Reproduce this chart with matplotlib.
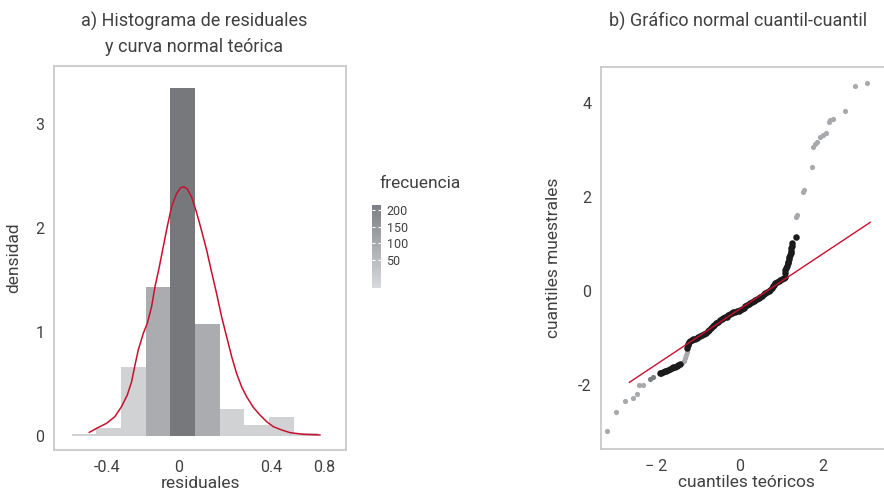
import matplotlib
matplotlib.use("Agg")
import matplotlib.pyplot as plt
from matplotlib.colors import ListedColormap, BoundaryNorm, LinearSegmentedColormap, Normalize
import matplotlib.cm as cm

# --- Datos: histograma de residuales ---
bordes = [-0.596, -0.459, -0.322, -0.185, -0.048, 0.089, 0.226, 0.363, 0.500, 0.637, 0.774]
densidad = [0.02, 0.077, 0.66, 1.43, 3.35, 1.08, 0.26, 0.11, 0.18, 0.03]
frecuencia = [1, 5, 42, 91, 212, 68, 16, 7, 11, 2]

# curva
curva_x = [-0.498, -0.457, -0.402, -0.356, -0.319, -0.287, -0.263, -0.244, -0.226,
           -0.198, -0.176, -0.152, -0.133, -0.109, -0.087, -0.065, -0.041, -0.013,
           0.009, 0.028, 0.046, 0.070, 0.094, 0.120, 0.154, 0.181, 0.209, 0.237,
           0.265, 0.293, 0.320, 0.348, 0.376, 0.413, 0.450, 0.487, 0.524, 0.570,
           0.617, 0.691, 0.783]
curva_y = [0.035, 0.074, 0.122, 0.186, 0.282, 0.394, 0.522, 0.683, 0.827,
           0.987, 1.083, 1.244, 1.436, 1.628, 1.821, 2.013, 2.205, 2.333,
           2.388, 2.397, 2.378, 2.301, 2.173, 2.013, 1.788, 1.580, 1.372, 1.147,
           0.955, 0.763, 0.603, 0.474, 0.378, 0.276, 0.202, 0.138, 0.090, 0.058,
           0.032, 0.016, 0.010]

ticks_res = [-0.4, 0, 0.515, 0.806]
etiquetas_res = ["-0.4", "0", "0.4", "0.8"]

# --- Datos: grafico cuantil-cuantil ---
gris_x = [-3.16, -2.95, -2.73, -2.55, -2.45, -2.39, -2.30,
          -1.38, -1.33, -1.30, -1.27, -1.26, -1.25,
          1.36, 1.38, 1.53, 1.55, 1.75, 1.77, 1.80, 1.85, 1.93, 2.00, 2.07,
          2.15, 2.17, 2.23, 2.53, 2.77, 3.05]
gris_y = [-2.985, -2.58, -2.34, -2.28, -2.19, -2.006, -2.006,
          -1.545, -1.49, -1.44, -1.37, -1.31, -1.26,
          1.574, 1.62, 2.106, 2.15, 2.64, 3.06, 3.12, 3.17, 3.28, 3.32, 3.35,
          3.60, 3.63, 3.65, 3.82, 4.355, 4.43]
medio_x = [-2.14, -2.07]
medio_y = [-1.885, -1.84]
negro_x = [-1.91, -1.87, -1.83, -1.79, -1.75, -1.71, -1.67, -1.62, -1.58, -1.54,
           -1.50, -1.46, -1.42,
           -1.25, -1.24, -1.22, -1.20, -1.17, -1.14, -1.10, -1.06, -1.02, -0.98,
           -0.94, -0.90, -0.85, -0.80, -0.76, -0.72, -0.68, -0.64, -0.60, -0.55,
           -0.51, -0.46, -0.42, -0.38, -0.34, -0.30, -0.26, -0.22, -0.18, -0.14,
           -0.10, -0.06, -0.02, 0.02, 0.06, 0.10, 0.14, 0.18, 0.22, 0.26, 0.30,
           0.34, 0.38, 0.42, 0.46, 0.50, 0.54, 0.58, 0.62, 0.66, 0.70, 0.73,
           0.77, 0.80, 0.83, 0.86, 0.90, 0.94, 0.98, 1.02, 1.06, 1.09,
           1.09, 1.10, 1.12, 1.14, 1.16, 1.17, 1.19, 1.20, 1.22, 1.23, 1.24,
           1.24, 1.25, 1.25, 1.36]
negro_y = [-1.76, -1.745, -1.73, -1.715, -1.70, -1.685, -1.67, -1.65, -1.63, -1.615,
           -1.60, -1.585, -1.57,
           -1.21, -1.16, -1.13, -1.10, -1.07, -1.05, -1.035, -1.02, -1.005, -0.99,
           -0.97, -0.95, -0.92, -0.89, -0.865, -0.84, -0.80, -0.76, -0.725, -0.69,
           -0.66, -0.63, -0.61, -0.59, -0.57, -0.55, -0.525, -0.50, -0.48, -0.46,
           -0.45, -0.44, -0.425, -0.41, -0.385, -0.36, -0.335, -0.31, -0.29, -0.27,
           -0.245, -0.22, -0.195, -0.17, -0.15, -0.13, -0.105, -0.08, -0.055,
           -0.03, -0.01, 0.015, 0.06, 0.10, 0.13, 0.16, 0.18, 0.20, 0.22, 0.24,
           0.27, 0.30, 0.37, 0.44, 0.49, 0.53, 0.58, 0.62, 0.67, 0.71, 0.76,
           0.80, 0.85, 0.90, 0.96, 1.01, 1.15]
linea_x = [-2.63, 3.13]
linea_y = [-1.95, 1.455]

# --- Estilo ---
plt.rcParams['font.family'] = ['Roboto', 'DejaVu Sans']
texto = "#404040"
borde = "#c9c9cb"
rojo = "#c8102e"

fig = plt.figure(figsize=(8.84, 4.93), dpi=100)

# --- a) Histograma ---
ax1 = fig.add_axes([54 / 884, 43 / 493, 292 / 884, 384 / 493])
cmap_barras = ListedColormap(["#d1d2d4", "#abacaf", "#77787c"])
norm_barras = BoundaryNorm([0, 50, 150, 250], cmap_barras.N)
anchos = [bordes[i + 1] - bordes[i] for i in range(len(densidad))]
ax1.bar(bordes[:-1], densidad, width=anchos, align="edge",
        color=[cmap_barras(norm_barras(f)) for f in frecuencia], linewidth=0)
ax1.plot(curva_x, curva_y, color=rojo, lw=1.1)
ax1.set_xlim(-0.694, 0.928)
ax1.set_ylim(-0.135, 3.56)
ax1.set_xticks(ticks_res)
ax1.set_xticklabels(etiquetas_res)
ax1.set_yticks([0, 1, 2, 3])
ax1.set_xlabel("residuales", fontsize=12.5, color=texto, labelpad=1)
ax1.set_ylabel("densidad", fontsize=12.5, color=texto, labelpad=10)

# --- leyenda de frecuencia ---
cmap_cb = LinearSegmentedColormap.from_list("frec", ["#d7d9dd", "#7c8085"])
sm = cm.ScalarMappable(norm=Normalize(-35, 215), cmap=cmap_cb)
cax = fig.add_axes([372 / 884, (493 - 288) / 493, 9 / 884, 83 / 493])
cb = fig.colorbar(sm, cax=cax, ticks=[50, 100, 150, 200])
cb.outline.set_visible(False)
cax.tick_params(axis="y", direction="in", length=2, width=0.8, color="white",
                left=True, right=True, labelsize=9, labelcolor=texto, pad=4)
fig.text(420 / 884, 1 - 183 / 493, "frecuencia", fontsize=12.5, color=texto,
         ha="center", va="center")

# --- b) Cuantil-cuantil ---
ax2 = fig.add_axes([601 / 884, 44 / 493, 0.33, 382.3 / 493])
ax2.scatter(gris_x, gris_y, s=14, color="#a8a9ac", linewidths=0, zorder=2)
ax2.scatter(medio_x, medio_y, s=14, color="#7d7e81", linewidths=0, zorder=2)
ax2.scatter(negro_x, negro_y, s=22, color="#1b1b1b", linewidths=0, zorder=3)
ax2.plot(linea_x, linea_y, color=rojo, lw=1.0, zorder=4)
ax2.set_xlim(-3.31, 3.67)
ax2.set_ylim(-3.37, 4.77)
ax2.set_xticks([-2, 0, 2])
ax2.set_xticklabels(["\u2212 2", "0", "2"])
ax2.set_yticks([-2, 0, 2, 4])
ax2.set_yticklabels(["-2", "0", "2", "4"])
ax2.set_xlabel("cuantiles teóricos", fontsize=12.5, color=texto, labelpad=1)
ax2.set_ylabel("cuantiles muestrales", fontsize=12.5, color=texto, labelpad=12)

for ax in (ax1, ax2):
    for s in ax.spines.values():
        s.set_color(borde)
        s.set_linewidth(1.3)
    ax.tick_params(length=0, labelsize=11.5, labelcolor=texto, pad=7)

fig.text(194 / 884, 1 - 21 / 493, "a) Histograma de residuales", fontsize=13,
         color=texto, ha="center", va="center")
fig.text(194 / 884, 1 - 47 / 493, "y curva normal teórica", fontsize=13,
         color=texto, ha="center", va="center")
fig.text(738 / 884, 1 - 21 / 493, "b) Gráfico normal cuantil-cuantil", fontsize=13,
         color=texto, ha="center", va="center")

fig.savefig("out.png", dpi=100)
